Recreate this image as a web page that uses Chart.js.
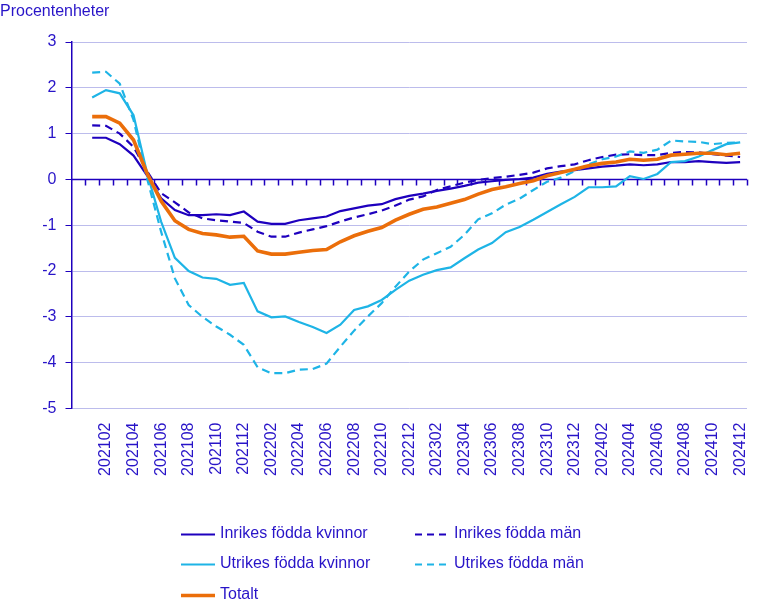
<!DOCTYPE html>
<html lang="sv">
<head>
<meta charset="utf-8">
<title>Procentenheter</title>
<script src="https://cdn.jsdelivr.net/npm/chart.js@4.4.1/dist/chart.umd.min.js"></script>
<style>
    html, body { margin: 0; padding: 0; background: #fff; }
    #wrap { width: 766px; height: 612px; }
</style>
</head>
<body>
<div id="wrap"><canvas id="chart" width="766" height="612"></canvas></div>
<script>
'use strict';

// Månader (en tom kategori först, som i originalet)
const months = [
    '202101', '202102', '202103', '202104', '202105', '202106', '202107', '202108', '202109', '202110', '202111', '202112',
    '202201', '202202', '202203', '202204', '202205', '202206', '202207', '202208', '202209', '202210', '202211', '202212',
    '202301', '202302', '202303', '202304', '202305', '202306', '202307', '202308', '202309', '202310', '202311', '202312',
    '202401', '202402', '202403', '202404', '202405', '202406', '202407', '202408', '202409', '202410', '202411', '202412'
];

const inrikesKvinnor = [
    0.91, 0.91, 0.77, 0.52, 0.08, -0.41, -0.67, -0.78, -0.78, -0.76, -0.78, -0.70,
    -0.92, -0.97, -0.97, -0.89, -0.85, -0.81, -0.69, -0.63, -0.57, -0.54, -0.43, -0.36,
    -0.31, -0.25, -0.20, -0.14, -0.07, -0.04, -0.01, 0.01, 0.04, 0.12, 0.17, 0.20,
    0.24, 0.28, 0.30, 0.33, 0.31, 0.33, 0.38, 0.38, 0.40, 0.38, 0.36, 0.38
];

const inrikesMan = [
    1.18, 1.17, 1.00, 0.71, 0.17, -0.30, -0.50, -0.72, -0.85, -0.89, -0.92, -0.95,
    -1.14, -1.25, -1.25, -1.16, -1.09, -1.02, -0.92, -0.83, -0.76, -0.68, -0.57, -0.44,
    -0.37, -0.23, -0.15, -0.07, -0.01, 0.03, 0.06, 0.10, 0.15, 0.24, 0.29, 0.33,
    0.42, 0.49, 0.54, 0.55, 0.53, 0.53, 0.58, 0.60, 0.59, 0.55, 0.52, 0.49
];

const utrikesKvinnor = [
    1.79, 1.95, 1.88, 1.40, 0.12, -0.92, -1.71, -2.00, -2.14, -2.17, -2.30, -2.26,
    -2.88, -3.01, -2.99, -3.11, -3.22, -3.35, -3.17, -2.85, -2.77, -2.63, -2.41, -2.21,
    -2.08, -1.98, -1.92, -1.72, -1.53, -1.39, -1.15, -1.04, -0.88, -0.71, -0.54, -0.38,
    -0.17, -0.17, -0.15, 0.07, 0.01, 0.12, 0.38, 0.40, 0.50, 0.64, 0.77, 0.81
];

const utrikesMan = [
    2.33, 2.35, 2.09, 1.30, 0.00, -1.14, -2.16, -2.74, -3.00, -3.21, -3.39, -3.61,
    -4.10, -4.23, -4.23, -4.15, -4.14, -4.02, -3.65, -3.30, -2.99, -2.70, -2.34, -2.01,
    -1.75, -1.61, -1.47, -1.21, -0.87, -0.74, -0.55, -0.42, -0.23, -0.05, 0.04, 0.18,
    0.33, 0.44, 0.50, 0.61, 0.58, 0.65, 0.85, 0.83, 0.82, 0.77, 0.80, 0.81
];

const totalt = [
    1.37, 1.37, 1.23, 0.86, 0.12, -0.47, -0.90, -1.09, -1.18, -1.21, -1.26, -1.24,
    -1.56, -1.63, -1.63, -1.59, -1.55, -1.53, -1.36, -1.23, -1.13, -1.05, -0.89, -0.76,
    -0.65, -0.60, -0.52, -0.44, -0.32, -0.22, -0.16, -0.09, -0.03, 0.08, 0.15, 0.22,
    0.30, 0.35, 0.38, 0.44, 0.42, 0.44, 0.53, 0.55, 0.57, 0.57, 0.54, 0.57
];

const yMin = -5;
const yMax = 3;

// Färger
const DARK = '#1e00be';
const LIGHT = '#1eb4e6';
const ORANGE = '#eb6e0a';
const TEXT = '#2814c8';
const GRID = '#bcbcec';
const FONT = { family: "'Liberation Sans', Arial, sans-serif", size: 16 };

const labels = [''].concat(months);
const pad = arr => [null].concat(arr);

const datasets = [
    { label: 'Inrikes födda kvinnor', data: pad(inrikesKvinnor), borderColor: DARK, borderWidth: 2.2, order: 5 },
    { label: 'Inrikes födda män', data: pad(inrikesMan), borderColor: DARK, borderWidth: 2.2, borderDash: [8, 5], order: 4 },
    { label: 'Utrikes födda kvinnor', data: pad(utrikesKvinnor), borderColor: LIGHT, borderWidth: 2.2, order: 3 },
    { label: 'Utrikes födda män', data: pad(utrikesMan), borderColor: LIGHT, borderWidth: 2.2, borderDash: [8, 5], order: 2 },
    { label: 'Totalt', data: pad(totalt), borderColor: ORANGE, borderWidth: 3.6, order: 1 }
];

// Legendens placering: [kolumn x, rad y]
const legendSpots = [[181, 534], [415, 534], [181, 564], [415, 564], [181, 595]];

// Små streck på nollinjen + rubrik + legend
const extras = {
    id: 'extras',
    beforeDatasetsDraw(chart) {
        const { ctx, scales: { x, y } } = chart;
        const y0 = Math.round(y.getPixelForValue(0)) + 0.5;
        const step = x.getPixelForValue(1) - x.getPixelForValue(0);
        ctx.save();
        ctx.strokeStyle = DARK;
        ctx.lineWidth = 1.5;
        ctx.beginPath();
        ctx.moveTo(chart.chartArea.left, y0);
        ctx.lineTo(chart.chartArea.right, y0);
        for (let i = 1; i <= labels.length; i++) {
            const px = Math.round(x.getPixelForValue(i) - step / 2) + 0.5;
            ctx.moveTo(px, y0);
            ctx.lineTo(px, y0 + 6);
        }
        ctx.stroke();
        ctx.restore();
    },
    afterDraw(chart) {
        const ctx = chart.ctx;
        ctx.save();
        ctx.fillStyle = TEXT;
        ctx.font = `16px ${FONT.family}`;
        ctx.textBaseline = 'middle';
        ctx.textAlign = 'left';
        ctx.fillText('Procentenheter', 0, 12);

        ctx.font = `${FONT.size}px ${FONT.family}`;
        chart.data.datasets.forEach((ds, i) => {
            const [lx, ly] = legendSpots[i];
            ctx.beginPath();
            ctx.strokeStyle = ds.borderColor;
            ctx.lineWidth = ds.borderWidth;
            ctx.setLineDash(ds.borderDash ? [7, 5] : []);
            ctx.moveTo(lx, ly + 0.5);
            ctx.lineTo(lx + 34, ly + 0.5);
            ctx.stroke();
            ctx.fillText(ds.label, lx + 39, ly);
        });
        ctx.restore();
    }
};

new Chart(document.getElementById('chart'), {
    type: 'line',
    data: { labels, datasets },
    plugins: [extras],
    options: {
        responsive: false,
        animation: false,
        layout: { padding: { top: 42, right: 19, left: 0, bottom: 0 } },
        elements: { point: { radius: 0 }, line: { tension: 0, borderCapStyle: 'butt' } },
        plugins: { legend: { display: false }, tooltip: { enabled: false } },
        scales: {
            x: {
                offset: true,
                grid: { display: false },
                border: { display: false },
                ticks: {
                    autoSkip: false,
                    maxRotation: 90,
                    minRotation: 90,
                    padding: 6,
                    color: TEXT,
                    font: FONT,
                    callback: (v, i) => (i > 0 && i % 2 === 0) ? labels[i] : ''
                },
                afterFit: s => { s.height = 612 - 408.5; }
            },
            y: {
                min: yMin,
                max: yMax,
                ticks: { stepSize: 1, color: TEXT, font: FONT, padding: 9 },
                grid: {
                    color: c => c.tick.value === 0 ? DARK : GRID,
                    tickColor: DARK,
                    tickLength: 6
                },
                border: { color: DARK, width: 1.5 },
                afterFit: s => { s.width = 71.5; }
            }
        }
    }
});
</script>
</body>
</html>
